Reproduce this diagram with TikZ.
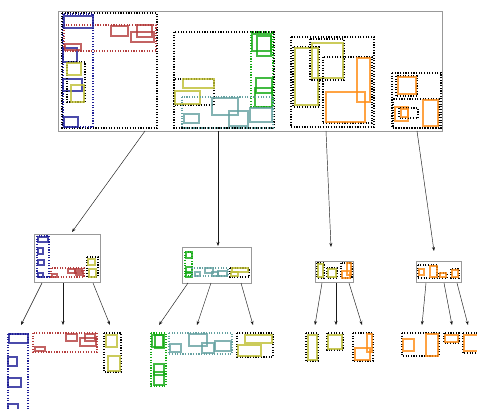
\documentclass[tikz,border=0pt]{standalone}
\usetikzlibrary{arrows.meta,fit}
\definecolor{cblue}{RGB}{30,30,150}
\definecolor{cred}{RGB}{180,60,60}
\definecolor{cyel}{RGB}{190,190,50}
\definecolor{cgrn}{RGB}{20,170,20}
\definecolor{cteal}{RGB}{100,160,160}
\definecolor{corg}{RGB}{255,140,20}
\begin{document}
\begin{tikzpicture}[
    x=1pt, y=-1pt,
    lvl/.style={draw=gray!80, line width=0.7pt, inner sep=0pt},
    dotbox/.style={line width=1.15pt, dash pattern=on 1.15pt off 1.5pt},
    rct/.style={line width=1.1pt, opacity=0.8},
    link/.style={-{Stealth[length=4pt,width=3pt]}, gray!20!black, line width=0.45pt},
  ]
    \useasboundingbox (0,0) rectangle (477,409);
    % Root node
    \node[lvl, fit={(58,11) (442,131)}] (root) {};
    % Group 1: blue / red / yellow
    \draw[dotbox] (62,13) rectangle (157,128);
    \draw[dotbox, cblue] (63,14) rectangle (93,127);
    \draw[dotbox, cred] (64,25) rectangle (156,51);
    \draw[rct, cblue] (64,16) rectangle (93,28);
    \draw[rct, cblue] (63,48) rectangle (77,62);
    \draw[rct, cblue] (63,79) rectangle (82,91);
    \draw[rct, cblue] (64,117) rectangle (78,127);
    \draw[rct, cred] (65,44) rectangle (81,50);
    \draw[rct, cred] (111,26) rectangle (128,36);
    \draw[rct, cred] (137,25) rectangle (152,37);
    \draw[rct, cred] (131,32) rectangle (154,42);
    \draw[dotbox] (67,62) rectangle (85,102);
    \draw[rct, cyel] (67,63) rectangle (81,75);
    \draw[rct, cyel] (71,85) rectangle (84,102);
    % Group 2: green / yellow / teal
    \draw[dotbox] (174,32) rectangle (274,128);
    \draw[dotbox, cgrn] (251,32) rectangle (273,107);
    \draw[rct, cgrn] (252,34) rectangle (271,51);
    \draw[rct, cgrn] (257,36) rectangle (271,56);
    \draw[rct, cgrn] (256,78) rectangle (272,93);
    \draw[rct, cgrn] (255,88) rectangle (272,107);
    \draw[dotbox] (174,79) rectangle (214,105);
    \draw[rct, cyel] (183,79) rectangle (214,88);
    \draw[rct, cyel] (175,91) rectangle (200,104);
    \draw[dotbox, cteal] (182,97) rectangle (273,128);
    \draw[rct, cteal] (184,114) rectangle (199,123);
    \draw[rct, cteal] (212,98) rectangle (238,115);
    \draw[rct, cteal] (229,111) rectangle (248,126);
    \draw[rct, cteal] (250,108) rectangle (272,122);
    % Group 3: yellow / orange
    \draw[dotbox] (291,37) rectangle (374,127);
    \draw[dotbox] (293,47) rectangle (319,107);
    \draw[rct, cyel] (295,48) rectangle (318,105);
    \draw[dotbox] (310,39) rectangle (344,80);
    \draw[rct, cyel] (312,43) rectangle (343,78);
    \draw[dotbox] (323,57) rectangle (372,123);
    \draw[rct, corg] (357,58) rectangle (370,102);
    \draw[rct, corg] (326,92) rectangle (365,122);
    % Group 4: orange
    \draw[dotbox] (392,73) rectangle (441,128);
    \draw[dotbox] (396,76) rectangle (417,96);
    \draw[rct, corg] (398,77) rectangle (416,94);
    \draw[dotbox] (393,99) rectangle (439,128);
    \draw[rct, corg] (395,107) rectangle (408,121);
    \draw[dotbox] (399,108) rectangle (418,118);
    \draw[rct, corg] (401,109) rectangle (408,117);
    \draw[rct, corg] (423,100) rectangle (438,126);

    % Middle level
    \node[lvl, fit={(34,234) (100,282)}] (mA) {};
    \draw[dotbox, cblue] (37,236) rectangle (49,277);
    \draw[rct, cblue] (38,237) rectangle (48,242);
    \draw[rct, cblue] (38,248) rectangle (43,254);
    \draw[rct, cblue] (38,260) rectangle (44,265);
    \draw[rct, cblue] (38,273) rectangle (43,277);
    \draw[dotbox, cred] (51,268) rectangle (84,277);
    \draw[rct, cred] (52,274) rectangle (57,277);
    \draw[rct, cred] (68,269) rectangle (75,273);
    \draw[rct, cred] (75,269) rectangle (82,273);
    \draw[rct, cred] (76,271) rectangle (83,275);
    \draw[dotbox] (87,257) rectangle (98,277);
    \draw[rct, cyel] (88,259) rectangle (95,265);
    \draw[rct, cyel] (89,269) rectangle (96,277);

    \node[lvl, fit={(182,247) (251,283)}] (mB) {};
    \draw[dotbox, cgrn] (185,252) rectangle (192,276);
    \draw[rct, cgrn] (186,252) rectangle (192,258);
    \draw[rct, cgrn] (186,267) rectangle (192,273);
    \draw[rct, cgrn] (186,272) rectangle (192,277);
    \draw[dotbox, cteal] (192,268) rectangle (228,276);
    \draw[rct, cteal] (195,272) rectangle (200,276);
    \draw[rct, cteal] (205,268) rectangle (213,273);
    \draw[rct, cteal] (212,272) rectangle (218,276);
    \draw[rct, cteal] (218,271) rectangle (227,276);
    \draw[dotbox] (230,268) rectangle (249,277);
    \draw[rct, cyel] (232,268) rectangle (248,272);
    \draw[rct, cyel] (231,272) rectangle (238,276);

    \node[lvl, fit={(315,261) (353,282)}] (mC) {};
    \draw[dotbox] (317,263) rectangle (324,278);
    \draw[rct, cyel] (318,264) rectangle (323,277);
    \draw[dotbox] (327,268) rectangle (337,278);
    \draw[rct, cyel] (328,269) rectangle (336,277);
    \draw[dotbox] (341,263) rectangle (352,278);
    \draw[rct, corg] (347,263) rectangle (351,275);
    \draw[rct, corg] (342,271) rectangle (350,278);

    \node[lvl, fit={(416,261) (461,282)}] (mD) {};
    \draw[dotbox] (418,265) rectangle (437,278);
    \draw[rct, corg] (419,269) rectangle (424,275);
    \draw[rct, corg] (430,266) rectangle (437,277);
    \draw[dotbox] (439,273) rectangle (447,278);
    \draw[rct, corg] (440,273) rectangle (446,277);
    \draw[dotbox] (451,269) rectangle (459,278);
    \draw[rct, corg] (452,270) rectangle (458,277);

    % Leaf level
    \draw[dotbox, cblue] (8,334) rectangle (28,412);
    \draw[rct, cblue] (9,334) rectangle (28,343);
    \draw[rct, cblue] (8,357) rectangle (17,366);
    \draw[rct, cblue] (8,378) rectangle (21,387);
    \draw[rct, cblue] (8,404) rectangle (18,412);
    \draw[dotbox, cred] (33,333) rectangle (97,352);
    \draw[rct, cred] (35,347) rectangle (45,351);
    \draw[rct, cred] (66,334) rectangle (77,341);
    \draw[rct, cred] (85,334) rectangle (95,341);
    \draw[rct, cred] (80,338) rectangle (96,346);
    \draw[dotbox] (104,333) rectangle (121,372);
    \draw[rct, cyel] (106,335) rectangle (117,347);
    \draw[rct, cyel] (108,356) rectangle (120,371);

    \draw[dotbox, cgrn] (151,333) rectangle (166,386);
    \draw[rct, cgrn] (152,335) rectangle (163,347);
    \draw[rct, cgrn] (155,335) rectangle (164,348);
    \draw[rct, cgrn] (154,364) rectangle (164,375);
    \draw[rct, cgrn] (154,372) rectangle (164,385);
    \draw[dotbox, cteal] (169,333) rectangle (232,354);
    \draw[rct, cteal] (170,344) rectangle (181,352);
    \draw[rct, cteal] (189,334) rectangle (207,346);
    \draw[rct, cteal] (202,343) rectangle (214,353);
    \draw[rct, cteal] (215,341) rectangle (231,351);
    \draw[dotbox] (237,333) rectangle (273,357);
    \draw[rct, cyel] (245,335) rectangle (272,343);
    \draw[rct, cyel] (238,345) rectangle (261,356);

    \draw[dotbox] (306,333) rectangle (318,361);
    \draw[rct, cyel] (308,335) rectangle (317,360);
    \draw[dotbox] (327,333) rectangle (343,350);
    \draw[rct, cyel] (328,335) rectangle (342,349);
    \draw[dotbox] (353,333) rectangle (373,361);
    \draw[rct, corg] (367,334) rectangle (372,352);
    \draw[rct, corg] (355,348) rectangle (370,360);

    \draw[dotbox] (402,333) rectangle (439,356);
    \draw[rct, corg] (403,339) rectangle (414,351);
    \draw[rct, corg] (426,334) rectangle (438,356);
    \draw[dotbox] (444,333) rectangle (459,343);
    \draw[rct, corg] (445,335) rectangle (458,342);
    \draw[dotbox] (463,333) rectangle (482,353);
    \draw[rct, corg] (464,335) rectangle (482,351);

    % Links between levels
    \foreach \i/\p/\q in {1/{145,131}/{72,232}, 2/{218,131}/{218,246},
        3/{326,131}/{331,247}, 4/{417,131}/{434,251},
        5/{42,283}/{21,325}, 6/{63,283}/{63,325}, 7/{93,283}/{110,325},
        8/{188,283}/{159,325}, 9/{211,283}/{197,325}, 10/{241,283}/{253,325},
        11/{322,283}/{315,325}, 12/{336,283}/{336,325}, 13/{349,283}/{362,325},
        14/{426,283}/{422,325}, 15/{444,283}/{452,325}, 16/{457,283}/{468,325}} {
      \coordinate (s\i) at (\p);
      \coordinate (e\i) at (\q);
      \draw[link] (s\i) -- (e\i);
    }
  \end{tikzpicture}
\end{document}
